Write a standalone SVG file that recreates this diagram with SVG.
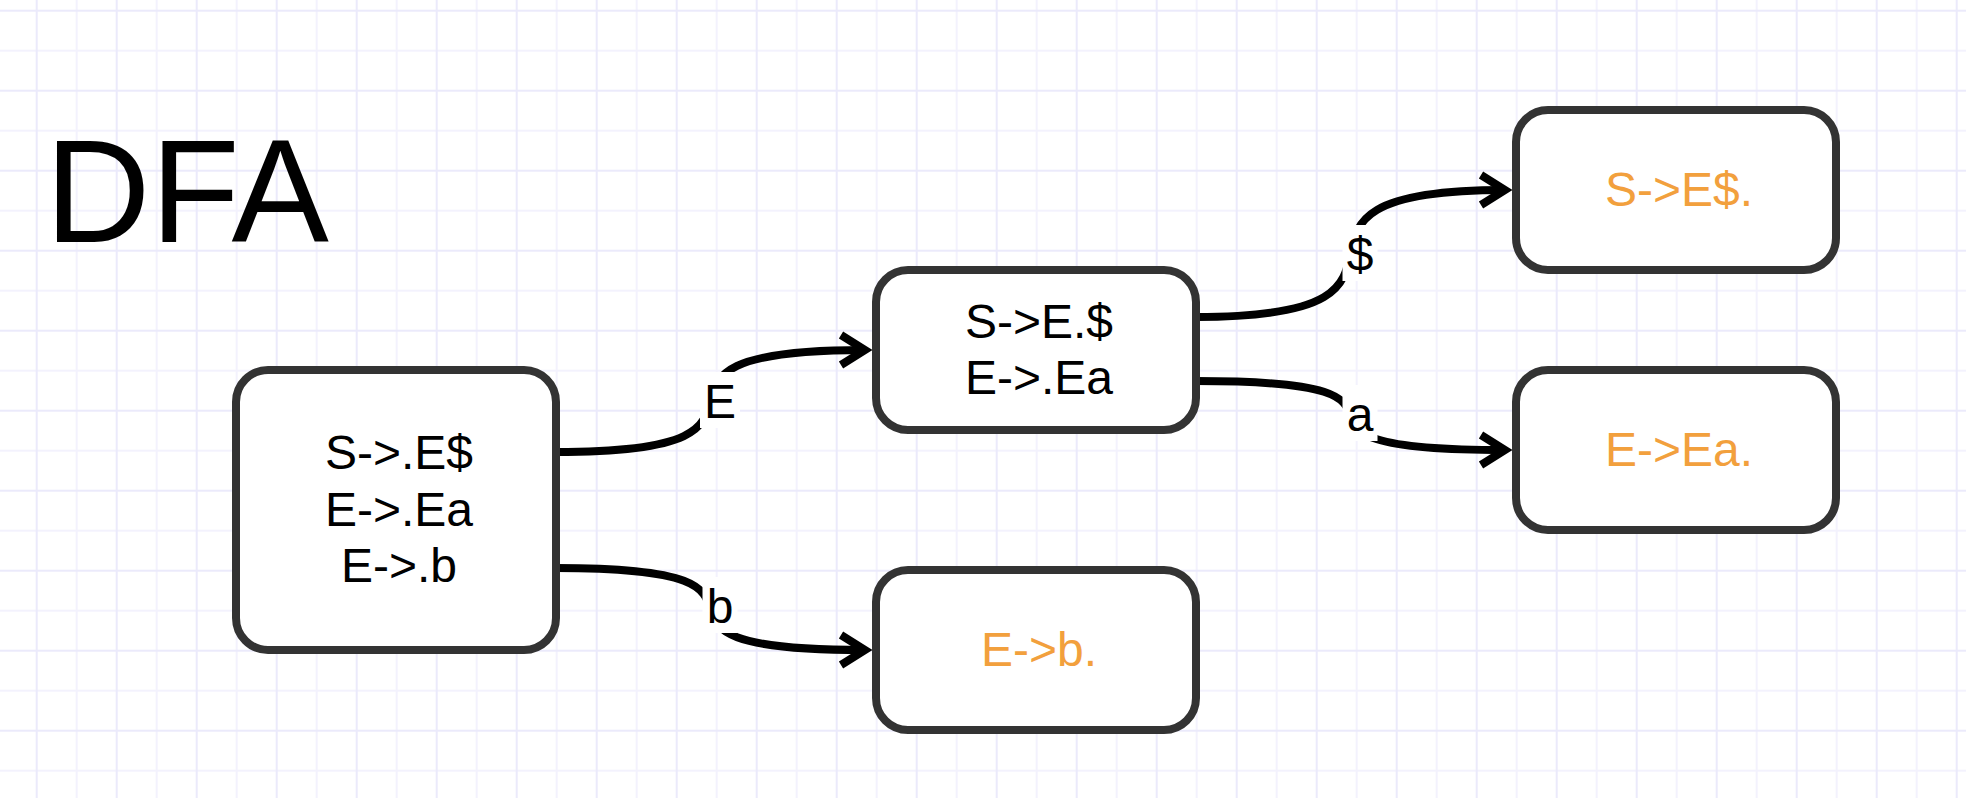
<svg xmlns="http://www.w3.org/2000/svg" width="1966" height="798" viewBox="0 0 1966 798">
  <defs>
    <pattern id="grid" patternUnits="userSpaceOnUse" x="35.7" y="9.7" width="80" height="80">
      <rect x="40" y="0" width="2" height="80" fill="#f3f2fd"/>
      <rect x="0" y="40" width="80" height="2" fill="#f3f2fd"/>
      <rect x="0" y="0" width="2" height="80" fill="#ebeafb"/>
      <rect x="0" y="0" width="80" height="2" fill="#ebeafb"/>
    </pattern>
    <marker id="arrow" markerUnits="userSpaceOnUse" viewBox="0 0 50 40" markerWidth="50" markerHeight="40" refX="40" refY="20" orient="auto" overflow="visible">
      <path d="M16,5 L40,20 L16,35" fill="none" stroke="#000" stroke-width="8" stroke-linejoin="miter" stroke-miterlimit="10"/>
    </marker>
    <style>
      .node rect { fill: #ffffff; stroke: #333333; stroke-width: 8; }
      .txt { font-family: "Liberation Sans", Arial, Helvetica, sans-serif; font-size: 48px; text-anchor: middle; fill: #000000; }
      .final { fill: #f2a03d; }
      .edge { fill: none; stroke: #000000; stroke-width: 8; marker-end: url(#arrow); }
      .lblbg { fill: #ffffff; }
      .title { font-family: "Liberation Sans", Arial, Helvetica, sans-serif; font-size: 146px; fill: #000000; }
    </style>
  </defs>

  <rect x="0" y="0" width="1966" height="798" fill="#ffffff"/>
  <rect x="0" y="0" width="1966" height="798" fill="url(#grid)"/>

  <text class="title" x="45" y="242">DFA</text>

  <g id="connectors">
    <g id="edge-E">
      <path class="edge" d="M556,452 C839,452 582,350 865,350"/>
      <rect class="lblbg" x="700" y="372" width="40" height="56"/>
      <text class="txt" x="720" y="418">E</text>
    </g>
    <g id="edge-b">
      <path class="edge" d="M556,568 C839,568 582,650 865,650"/>
      <rect class="lblbg" x="702.5" y="577" width="35" height="56"/>
      <text class="txt" x="720" y="623">b</text>
    </g>
    <g id="edge-dollar">
      <path class="edge" d="M1196,317 C1479,317 1222,190 1505,190"/>
      <rect class="lblbg" x="1342.5" y="225" width="35" height="56"/>
      <text class="txt" x="1360" y="271">$</text>
    </g>
    <g id="edge-a">
      <path class="edge" d="M1196,381 C1479,381 1222,450 1505,450"/>
      <rect class="lblbg" x="1342.5" y="385" width="35" height="56"/>
      <text class="txt" x="1360" y="431">a</text>
    </g>
  </g>

  <g id="node-start" class="node">
    <rect x="236" y="370" width="320" height="280" rx="32" ry="32"/>
    <text class="txt" x="399" y="469">S-&gt;.E$</text>
    <text class="txt" x="399" y="526">E-&gt;.Ea</text>
    <text class="txt" x="399" y="582">E-&gt;.b</text>
  </g>

  <g id="node-E" class="node">
    <rect x="876" y="270" width="320" height="160" rx="32" ry="32"/>
    <text class="txt" x="1039" y="338">S-&gt;E.$</text>
    <text class="txt" x="1039" y="394">E-&gt;.Ea</text>
  </g>

  <g id="node-Edollar" class="node">
    <rect x="1516" y="110" width="320" height="160" rx="32" ry="32"/>
    <text class="txt final" x="1679" y="206">S-&gt;E$.</text>
  </g>

  <g id="node-Ea" class="node">
    <rect x="1516" y="370" width="320" height="160" rx="32" ry="32"/>
    <text class="txt final" x="1679" y="466">E-&gt;Ea.</text>
  </g>

  <g id="node-b" class="node">
    <rect x="876" y="570" width="320" height="160" rx="32" ry="32"/>
    <text class="txt final" x="1039" y="666">E-&gt;b.</text>
  </g>
</svg>
